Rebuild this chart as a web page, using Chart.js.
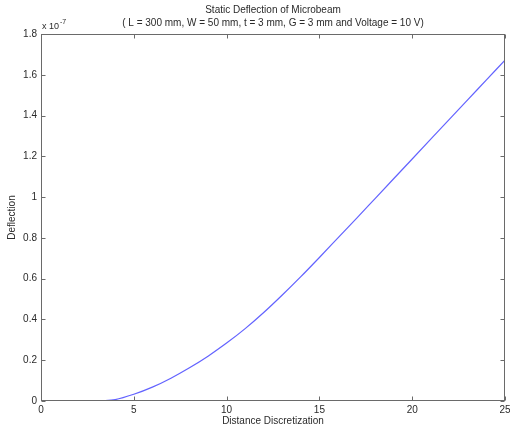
<!DOCTYPE html>
<html>
<head>
<meta charset="utf-8">
<script src="https://cdn.jsdelivr.net/npm/chart.js@4"></script>
<style>
  html, body { margin: 0; padding: 0; background: #fff; }
  #wrap { width: 510px; height: 431px; }
</style>
</head>
<body>
<div id="wrap"><canvas id="deflectionChart" width="510" height="431"></canvas></div>
<script>
// beam position along the discretization, and static deflection (in units of 1e-7)
const positions = [3.2, 4, 5, 6, 7, 8, 9, 10, 11, 12, 13, 14, 15, 16, 17, 18, 19, 20, 21, 22, 23, 24, 25];
const deflection = [0, 0.007, 0.033, 0.068, 0.112, 0.163, 0.22, 0.284, 0.355, 0.434, 0.52, 0.61,
  0.704, 0.8, 0.896, 0.993, 1.09, 1.187, 1.284, 1.381, 1.478, 1.575, 1.672];
const xTicks = [0, 5, 10, 15, 20, 25];
const yTicks = [0, 0.2, 0.4, 0.6, 0.8, 1, 1.2, 1.4, 1.6, 1.8];

const titleLines = [
  "Static Deflection of Microbeam",
  "( L = 300 mm, W = 50 mm, t = 3 mm, G = 3 mm and Voltage = 10 V)"
];
const FONT = "Liberation Sans, Arial, sans-serif";

// matlab-style box: frame on all four sides, ticks pointing inward, titles
const matlabBox = {
  id: "matlabBox",
  afterDraw(chart) {
    const { ctx, chartArea: a, scales } = chart;
    const L = Math.round(a.left) + 0.5, R = Math.round(a.right) - 0.5;
    const T = Math.round(a.top) + 0.5, B = Math.round(a.bottom) - 0.5;
    ctx.save();
    ctx.strokeStyle = "#6a6a6a";
    ctx.lineWidth = 1;
    ctx.strokeRect(L, T, R - L, B - T);
    ctx.beginPath();
    scales.x.ticks.forEach(t => {
      const px = Math.round(scales.x.getPixelForValue(t.value)) + 0.5;
      ctx.moveTo(px, B); ctx.lineTo(px, B - 4);
      ctx.moveTo(px, T); ctx.lineTo(px, T + 4);
    });
    scales.y.ticks.forEach(t => {
      const py = Math.round(scales.y.getPixelForValue(t.value)) + 0.5;
      ctx.moveTo(L, py); ctx.lineTo(L + 4, py);
      ctx.moveTo(R, py); ctx.lineTo(R - 4, py);
    });
    ctx.stroke();

    ctx.fillStyle = "#2a2a2a";
    ctx.font = "10px " + FONT;
    ctx.textAlign = "center";
    ctx.textBaseline = "middle";
    const cx = (a.left + a.right) / 2;
    ctx.fillText(titleLines[0], cx, 10);
    ctx.fillText(titleLines[1], cx, 23);

    // axis titles
    ctx.fillText("Distance Discretization", cx, 421);
    ctx.save();
    ctx.translate(12, (a.top + a.bottom) / 2);
    ctx.rotate(-Math.PI / 2);
    ctx.fillText("Deflection", 0, 0);
    ctx.restore();

    // exponent multiplier above the y axis
    ctx.textAlign = "left";
    ctx.font = "9px " + FONT;
    ctx.fillText("x 10", a.left + 1, 27);
    ctx.font = "7px " + FONT;
    ctx.fillText("-7", a.left + 19, 22);
    ctx.restore();
  }
};

new Chart(document.getElementById("deflectionChart"), {
  type: "scatter",
  data: {
    datasets: [{
      data: positions.map((p, i) => ({ x: p, y: deflection[i] })),
      showLine: true,
      borderColor: "rgba(70, 70, 255, 0.85)",
      borderWidth: 1.2,
      pointRadius: 0,
      cubicInterpolationMode: "monotone",
      fill: false
    }]
  },
  options: {
    responsive: false,
    animation: false,
    layout: { padding: { top: 34, right: 5, left: 0, bottom: 0 } },
    plugins: { legend: { display: false }, tooltip: { enabled: false }, title: { display: false } },
    scales: {
      x: {
        type: "linear",
        min: 0,
        max: 25,
        afterBuildTicks: s => { s.ticks = xTicks.map(v => ({ value: v })); },
        afterFit: s => { s.height = 30; s.paddingLeft = 0; s.paddingRight = 0; },
        grid: { display: false, drawTicks: false },
        border: { display: false },
        ticks: { color: "#2a2a2a", font: { family: FONT, size: 10 }, padding: 3, maxRotation: 0 }
      },
      y: {
        type: "linear",
        min: 0,
        max: 1.8,
        afterBuildTicks: s => { s.ticks = yTicks.map(v => ({ value: v })); },
        afterFit: s => { s.width = 41; s.paddingTop = 0; s.paddingBottom = 0; },
        grid: { display: false, drawTicks: false },
        border: { display: false },
        ticks: { color: "#2a2a2a", font: { family: FONT, size: 10 }, padding: 4,
          callback: v => String(Math.round(v * 10) / 10) }
      }
    }
  },
  plugins: [matlabBox]
});
</script>
</body>
</html>
